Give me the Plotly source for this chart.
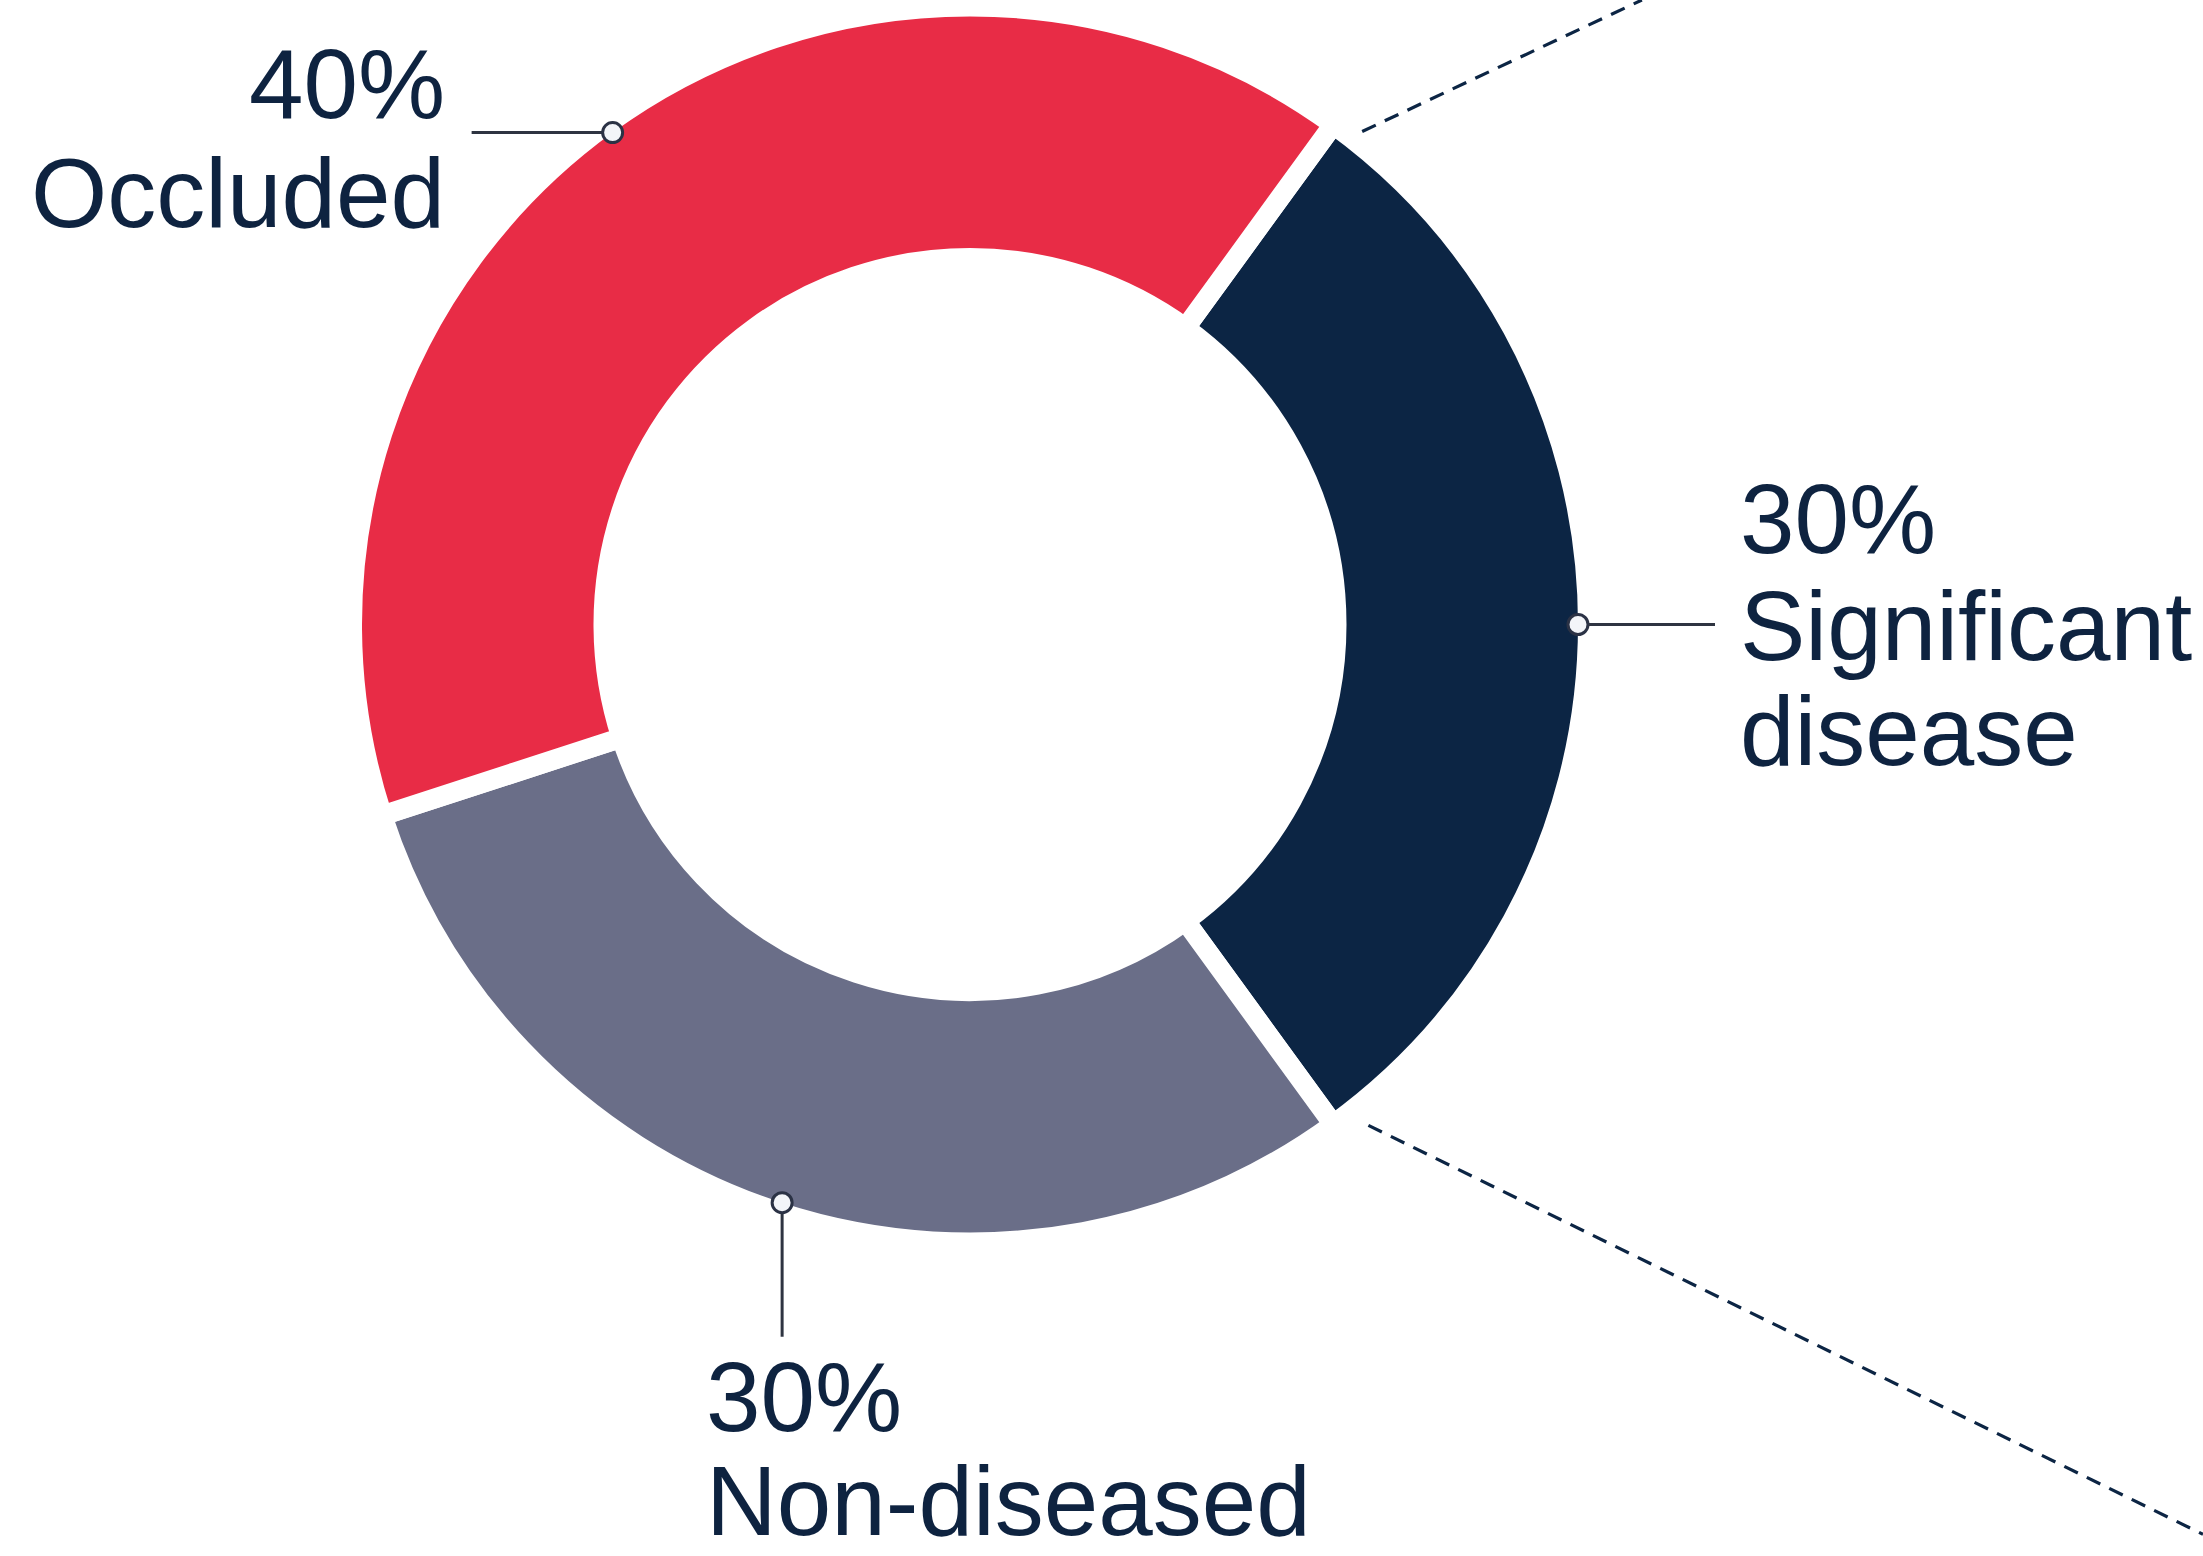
import math
import plotly.graph_objects as go

# ---------------- data ----------------
categories = ["Significant disease", "Non-diseased", "Occluded"]
values = [30, 30, 40]
name_lines = [["Significant", "disease"], ["Non-diseased"], ["Occluded"]]
colors = ["#0C2544", "#6A6E88", "#E82C46"]

# ---------------- layout constants ----------------
W, H = 2203, 1556
TEXT_COLOR = "#0E2340"
FONT = "Arial, 'Liberation Sans', Helvetica, sans-serif"
FS = 98

CX, CY = 970.0, 624.5          # donut centre (px)
R_VIS = 608.0                  # visible outer radius
GAP = 20                       # white gap between slices
HOLE_VIS = 376.5               # visible inner radius
ROT = 36                       # first slice starts here (deg, clockwise from 12 o'clock)
R_PIE = R_VIS + GAP / 2
HOLE = (HOLE_VIS - GAP / 2) / R_PIE

# per-category callout layout: leader direction, leader length, text anchor, text position, baselines
callout = {
    "Significant disease": dict(dir=(1, 0), length=137, xanchor="left", tx=1738, baselines=[553, 660, 765]),
    "Non-diseased": dict(dir=(0, 1), length=134, xanchor="left", tx=704, baselines=[1431, 1535]),
    "Occluded": dict(dir=(-1, 0), length=141, xanchor="right", tx=447, baselines=[118, 227]),
}


def px(x):
    return x / W


def py(y):
    return 1 - y / H


def polar(r, deg):
    a = math.radians(deg)
    return CX + r * math.sin(a), CY - r * math.cos(a)


fig = go.Figure()
fig.add_trace(
    go.Pie(
        labels=categories,
        values=values,
        marker=dict(colors=colors, line=dict(color="white", width=GAP)),
        hole=HOLE,
        sort=False,
        direction="clockwise",
        rotation=ROT,
        textinfo="none",
        hoverinfo="skip",
        showlegend=False,
        domain=dict(x=[px(CX - R_PIE), px(CX + R_PIE)], y=[py(CY + R_PIE), py(CY - R_PIE)]),
    )
)

shapes = []
annotations = []
total = sum(values)
angle = ROT
slice_bounds = []
for cat, v, lines in zip(categories, values, name_lines):
    span = 360.0 * v / total
    mid = angle + span / 2
    slice_bounds.append((angle, angle + span))
    mx, my = polar(R_VIS, mid)
    c = callout[cat]
    ex, ey = mx + c["dir"][0] * c["length"], my + c["dir"][1] * c["length"]
    shapes.append(dict(type="line", xref="paper", yref="paper", x0=px(mx), y0=py(my), x1=px(ex), y1=py(ey),
                       line=dict(color="#2E3441", width=3), layer="above"))
    rr = 10
    shapes.append(dict(type="circle", xref="paper", yref="paper", x0=px(mx - rr), x1=px(mx + rr),
                       y0=py(my + rr), y1=py(my - rr), fillcolor="#F3F5F9",
                       line=dict(color="#2B3245", width=3), layer="above"))
    texts = [f"{v}%"] + lines
    for t, base in zip(texts, c["baselines"]):
        annotations.append(dict(xref="paper", yref="paper", x=px(c["tx"]), y=py(base - 0.3465 * FS),
                                xanchor=c["xanchor"], yanchor="middle", text=t, showarrow=False,
                                font=dict(family=FONT, size=FS, color=TEXT_COLOR)))
    angle += span

# dashed "zoom" lines from the Significant-disease slice edges
s0, s1 = slice_bounds[0]
dash_specs = [(s0 + 2.5, 630, -0.47), (s1 - 2.5, 640, 0.49)]
for deg, r, slope in dash_specs:
    x0, y0 = polar(r, deg)
    if slope < 0:
        x1 = x0 + (0 - y0) / slope
        y1 = 0
    else:
        x1 = W
        y1 = y0 + slope * (W - x0)
    shapes.append(dict(type="line", xref="paper", yref="paper", x0=px(x0), y0=py(y0), x1=px(x1), y1=py(y1),
                       line=dict(color="#0C2544", width=3.2, dash="15px,10px"), layer="above"))

fig.update_layout(
    width=W, height=H,
    margin=dict(l=0, r=0, t=0, b=0),
    paper_bgcolor="white", plot_bgcolor="white",
    shapes=shapes, annotations=annotations,
)
fig.write_html(
    "out.html",
    config={"displayModeBar": False},
    post_script="document.body.style.margin='0';document.body.style.overflow='hidden';",
)
